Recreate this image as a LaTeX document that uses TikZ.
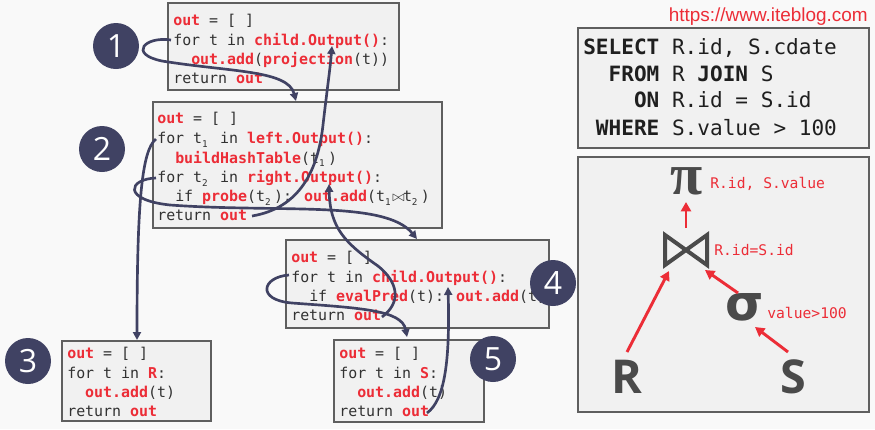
\documentclass[tikz,border=0pt]{standalone}
\usepackage{fontspec}
\setmainfont{DejaVu Sans}
\newfontfamily\codefont{DejaVu Sans Mono}
\newfontfamily\urlfont{Liberation Sans}
\newfontfamily\numfont{Open Sans}
\newfontfamily\symfont{DejaVu Sans}
\newfontfamily\pifont{Liberation Serif}
\usetikzlibrary{arrows.meta,fit}
\definecolor{kred}{RGB}{236,45,55}
\definecolor{kgray}{RGB}{50,50,50}
\definecolor{knavy}{RGB}{64,66,99}
\definecolor{kfill}{RGB}{241,241,241}
\definecolor{kborder}{RGB}{95,95,95}
\definecolor{ksym}{RGB}{74,74,74}
\definecolor{kbg}{RGB}{249,249,249}
\newcommand{\rd}[1]{\textcolor{kred}{\bfseries #1}}
\newcommand{\subn}[1]{\makebox[0.602em][l]{\raisebox{-0.45ex}{\fontsize{7pt}{7pt}\selectfont #1}}}
\newcommand{\bowch}{\makebox[0.602em]{$\bowtie$}}
\begin{document}
\begin{tikzpicture}[x=0.75pt,y=-0.75pt,
  code/.style={font=\codefont\fontsize{11.2pt}{13pt}\selectfont, text=kgray, inner sep=0, anchor=base west},
  sql/.style={font=\codefont\fontsize{15.8pt}{18pt}\selectfont, text=black!88, inner sep=0, anchor=base west},
  lbl/.style={font=\codefont\fontsize{11pt}{13pt}\selectfont, text=kred, inner sep=0, anchor=base west},
  codebox/.style={draw=kborder, line width=1.3pt, fill=kfill, inner sep=0},
  num/.style={circle, fill=knavy, minimum size=34.5pt, inner sep=0, text=white, font=\numfont\fontsize{24pt}{24pt}\selectfont},
  flow/.style={draw=knavy, line width=2pt, -{Triangle[length=6pt,width=6pt]}},
  tarrow/.style={draw=kred, line width=2.2pt, -{Triangle[length=7pt,width=7.5pt]}},
  sym/.style={text=ksym, inner sep=0}]
\fill[kbg] (0,0) rectangle (875,429);
\useasboundingbox (0,0) rectangle (875,429);

% boxes
\node[codebox, fit={(168,3)(399,90)}] (b1) {};
\node[codebox, fit={(153,102)(442,228)}] (b2) {};
\node[codebox, fit={(62,341)(211,421)}] (b3) {};
\node[codebox, fit={(286,240)(549,328)}] (b4) {};
\node[codebox, fit={(334,340)(484,422)}] (b5) {};
\node[codebox, fit={(578,28)(869,148)}] (sqlbox) {};
\node[codebox, fit={(578,157)(869,412)}] (treebox) {};

% box 1
\node[code] (t11) at (173,25.5) {\rd{out} = [ ]};
\node[code] (t12) at (173,45) {for t in \rd{child.Output()}:};
\node[code] (t13) at (173,64.5) {\ \ \rd{out.add}(\rd{projection}(t))};
\node[code] (t14) at (173,83.5) {return \rd{out}};
% box 2
\node[code] (t21) at (157,123.5) {\rd{out} = [ ]};
\node[code] (t22) at (157,143.5) {for t\subn{1} in \rd{left.Output()}:};
\node[code] (t23) at (157,163) {\ \ \rd{buildHashTable}(t\subn{1})};
\node[code] (t24) at (157,182.5) {for t\subn{2} in \rd{right.Output()}:};
\node[code] (t25) at (157,201.5) {\ \ if \rd{probe}(t\subn{2}): \rd{out.add}(t\subn{1}\bowch t\subn{2})};
\node[code] (t26) at (157,220.5) {return \rd{out}};
% box 3
\node[code] (t31) at (67,358.5) {\rd{out} = [ ]};
\node[code] (t32) at (67,378.5) {for t in \rd{R}:};
\node[code] (t33) at (67,397.5) {\ \ \rd{out.add}(t)};
\node[code] (t34) at (67,416.5) {return \rd{out}};
% box 4
\node[code] (t41) at (291,262.5) {\rd{out} = [ ]};
\node[code] (t42) at (291,282) {for t in \rd{child.Output()}:};
\node[code] (t43) at (291,301.5) {\ \ if \rd{evalPred}(t): \rd{out.add}(t)};
\node[code] (t44) at (291,320.5) {return \rd{out}};
% box 5
\node[code] (t51) at (339,358.5) {\rd{out} = [ ]};
\node[code] (t52) at (339,378.5) {for t in \rd{S}:};
\node[code] (t53) at (339,397.5) {\ \ \rd{out.add}(t)};
\node[code] (t54) at (339,416.5) {return \rd{out}};

% SQL
\node[sql] (q1) at (583,54.7) {\textbf{SELECT} R.id, S.cdate};
\node[sql] (q2) at (583,81.2) {\ \ \textbf{FROM} R \textbf{JOIN} S};
\node[sql] (q3) at (583,107.7) {\ \ \ \ \textbf{ON} R.id = S.id};
\node[sql] (q4) at (583,135.7) {\ \textbf{WHERE} S.value > 100};

% url
\node[font=\urlfont\fontsize{14.2pt}{16pt}\selectfont, text=kred, inner sep=0, anchor=base east] (url) at (868,21.5) {https://www.iteblog.com};

% tree
\node[sym, font=\pifont\bfseries\fontsize{44pt}{44pt}\selectfont] (pi) at (687,181) {π};
\node[lbl] (pil) at (710,188) {R.id, S.value};
\coordinate (join) at (686,250);
\draw[ksym, line width=3pt, line join=miter] (665,235) -- (665,265) -- (707,235) -- (707,265) -- cycle;
\node[lbl] (joinl) at (714,255) {R.id=S.id};
\node[sym, font=\symfont\bfseries\fontsize{37pt}{37pt}\selectfont] (sig) at (745,307) {σ};
\node[lbl] (sigl) at (767,318) {value>100};
\node[sym, font=\numfont\bfseries\fontsize{35pt}{35pt}\selectfont] (R) at (627,377) {R};
\node[sym, font=\numfont\bfseries\fontsize{35pt}{35pt}\selectfont] (S) at (793,377) {S};
\coordinate (pjs) at (686,228); \coordinate (pje) at (686,202);
\coordinate (rjs) at (627,352); \coordinate (rje) at (669,271);
\coordinate (sjs) at (738,293); \coordinate (sje) at (705,270);
\coordinate (sss) at (788,352); \coordinate (sse) at (755,327);
\draw[tarrow] (pjs) -- (pje);
\draw[tarrow] (rjs) -- (rje);
\draw[tarrow] (sjs) -- (sje);
\draw[tarrow] (sss) -- (sse);

% flow curves
\coordinate (a0) at (171,40); \coordinate (a1) at (296,101);
\draw[flow] (a0) .. controls (145,36) and (128,54) .. (162,61) .. controls (230,72) and (288,70) .. (a1);
\coordinate (c0) at (252,216); \coordinate (c1) at (332,46);
\draw[flow] (c0) .. controls (300,208) and (318,170) .. (323,125) .. controls (327,90) and (330,70) .. (c1);
\coordinate (d0) at (156,139); \coordinate (d1) at (137,340);
\draw[flow] (d0) .. controls (142,150) and (137,200) .. (d1);
\coordinate (e0) at (156,178); \coordinate (e1) at (417,239);
\draw[flow] (e0) .. controls (128,179) and (122,200) .. (170,205) .. controls (280,213) and (385,200) .. (e1);
\coordinate (g0) at (289,275); \coordinate (g1) at (407,337);
\draw[flow] (g0) .. controls (262,277) and (256,300) .. (292,303) .. controls (360,308) and (402,310) .. (g1);
\coordinate (h0) at (382,317); \coordinate (h1) at (329,184);
\draw[flow] (h0) .. controls (402,302) and (398,282) .. (378,266) .. controls (345,243) and (330,228) .. (h1);
\coordinate (f0) at (427,413); \coordinate (f1) at (448,287);
\draw[flow] (f0) .. controls (445,400) and (450,360) .. (f1);

% numbers
\node[num] (n1) at (116,46) {1};
\node[num] (n2) at (102,149) {2};
\node[num] (n3) at (28,361) {3};
\node[num] (n4) at (553,283) {4};
\node[num] (n5) at (493,359) {5};
\end{tikzpicture}
\end{document}
